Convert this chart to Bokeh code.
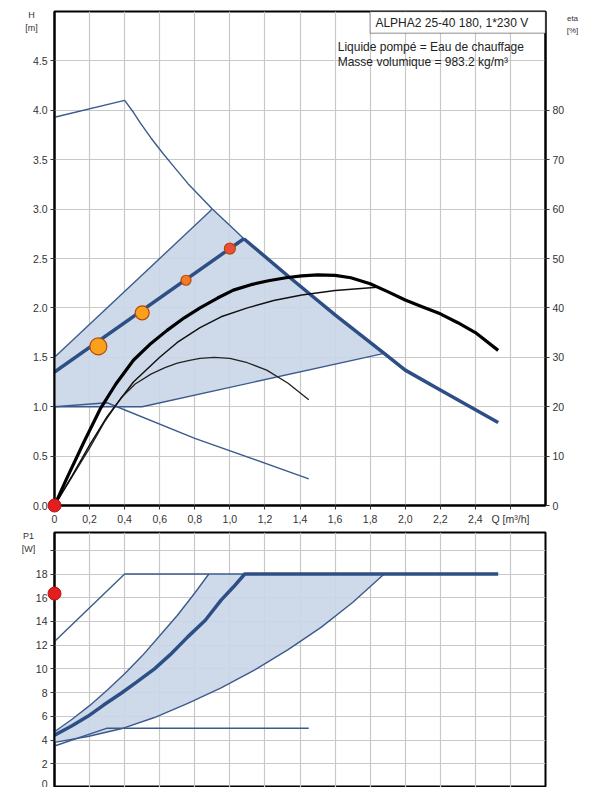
from bokeh.plotting import figure
from bokeh.models import Range1d, LinearAxis, FixedTicker, Label, BoxAnnotation, Grid
from bokeh.layouts import column
from bokeh.embed import file_html
from bokeh.resources import INLINE

# ---------------- data ----------------
q_ticks = [0, 0.2, 0.4, 0.6, 0.8, 1.0, 1.2, 1.4, 1.6, 1.8, 2.0, 2.2, 2.4, 2.6]
q_tick_labels = ["0", "0,2", "0,4", "0,6", "0,8", "1,0", "1,2", "1,4", "1,6", "1,8",
                 "2,0", "2,2", "2,4", "Q [m³/h]"]
h_ticks = [0, 0.5, 1.0, 1.5, 2.0, 2.5, 3.0, 3.5, 4.0, 4.5]
h_tick_labels = ["0.0", "0.5", "1.0", "1.5", "2.0", "2.5", "3.0", "3.5", "4.0", "4.5"]
eta_ticks = [0, 10, 20, 30, 40, 50, 60, 70, 80]
eta_tick_labels = ["0", "10", "20", "30", "40", "50", "60", "70", "80"]
p_ticks = [0, 2, 4, 6, 8, 10, 12, 14, 16, 18, 20]
p_tick_labels = ["0", "2", "4", "6", "8", "10", "12", "14", "16", "18", ""]

# max curve H(Q)
max_q = [0, 0.4, 0.45, 0.49, 0.55, 0.62, 0.69, 0.76, 0.83, 0.9, 1.02, 1.08, 1.34, 1.6,
         1.88, 2.0, 2.2, 2.53]
max_h = [3.93, 4.10, 3.98, 3.87, 3.72, 3.56, 3.41, 3.26, 3.13, 3.0, 2.80, 2.70, 2.31, 1.93,
         1.54, 1.37, 1.17, 0.84]

# AutoAdapt area boundaries
area_top_q = [0, 0.9]
area_top_h = [1.5, 3.0]
area_low_q = [0, 0.5, 1.88]
area_low_h = [1.0, 1.0, 1.54]
min_q = [0, 0.3, 0.8, 1.45]
min_h = [1.0, 1.04, 0.68, 0.27]

# proportional pressure line and duty points
prop_q = [0, 1.08]
prop_h = [1.35, 2.70]
pt_q = [0.25, 0.5, 0.75, 1.0]
pt_h = [1.61, 1.95, 2.28, 2.60]
red_q = [0]
red_h = [0]

# efficiency curves (eta %)
eta_q = [0, 0.07, 0.17, 0.26, 0.35, 0.45, 0.55, 0.64, 0.74, 0.83, 0.93, 1.02, 1.12, 1.22,
         1.32, 1.41, 1.5, 1.6, 1.69, 1.8, 1.9, 2.0, 2.1, 2.2, 2.3, 2.4, 2.53]
eta_v = [0, 5.5, 13.0, 19.5, 24.6, 29.4, 32.8, 35.4, 38.0, 40.0, 42.0, 43.6, 44.7, 45.5,
         46.1, 46.5, 46.7, 46.6, 46.1, 44.9, 43.3, 41.6, 40.2, 38.8, 37.0, 35.0, 31.4]
eta_a_q = [0, 0.1, 0.2, 0.3, 0.45, 0.6, 0.7, 0.83, 0.95, 1.1, 1.25, 1.41, 1.6, 1.84]
eta_a_v = [0, 6.0, 12.2, 18.0, 25.0, 30.0, 33.0, 36.0, 38.2, 40.0, 41.5, 42.6, 43.5, 44.2]
eta_b_q = [0, 0.1, 0.2, 0.29, 0.38, 0.46, 0.55, 0.63, 0.7, 0.77, 0.83, 0.91, 1.0, 1.1,
           1.21, 1.33, 1.45]
eta_b_v = [0, 5.8, 11.6, 17.2, 21.8, 24.6, 26.6, 27.9, 28.8, 29.4, 29.8, 30.0, 29.8, 28.9,
           27.4, 24.8, 21.4]

# power curves P1 (W)
pmax_q = [0, 0.4, 2.53]
pmax_w = [12.3, 18, 18]
pup_q = [0, 0.1, 0.2, 0.3, 0.4, 0.5, 0.6, 0.7, 0.8, 0.88]
pup_w = [4.7, 5.75, 6.9, 8.2, 9.6, 11.1, 12.8, 14.5, 16.4, 18]
pmid_q = [0, 0.1, 0.19, 0.28, 0.38, 0.47, 0.57, 0.66, 0.76, 0.86, 0.95, 1.02, 1.085, 2.53]
pmid_w = [4.4, 5.2, 6.0, 6.95, 7.95, 8.9, 10.0, 11.2, 12.7, 14.1, 15.8, 16.9, 18, 18]
plow_q = [0, 0.19, 0.38, 0.57, 0.76, 0.95, 1.14, 1.33, 1.52, 1.7, 1.88]
plow_w = [3.8, 4.3, 4.95, 5.9, 7.1, 8.4, 9.9, 11.6, 13.5, 15.6, 18]
pflat_q = [0, 0.3, 1.45]
pflat_w = [3.5, 5.0, 5.0]
pred_q = [0]
pred_w = [16.35]

# ---------------- styles ----------------
FONT = "Liberation Sans"
THIN = "#3b5b8c"
THICK = "#2d4f86"
SHADE = "#c9d6e8"
GRID = "#c8c8c8"
TXT = "#333333"
pt_sizes = [17, 14, 10, 11]
pt_colors = ["#f9a11b", "#f9a11b", "#f47b20", "#ea4f37"]


def style_axis(ax, ticks, labels):
    ax.ticker = FixedTicker(ticks=ticks)
    ax.major_label_overrides = {t: l for t, l in zip(ticks, labels)}
    ax.axis_line_width = 2
    ax.axis_line_color = "black"
    ax.major_tick_out = 4
    ax.major_tick_in = 0
    ax.minor_tick_out = 0
    ax.minor_tick_in = 0
    ax.major_tick_line_color = "#333333"
    ax.major_label_text_font = FONT
    ax.major_label_text_font_size = "10.5px"
    ax.major_label_text_color = TXT
    ax.major_label_standoff = 3


def side_label(fig, text, x, y, side, size="9px"):
    fig.add_layout(Label(x=x, y=y, x_units="canvas", y_units="canvas", text=text,
                         text_font=FONT, text_font_size=size, text_color=TXT,
                         text_align="center", text_baseline="middle",
                         text_line_height=1.25), side)


# ---------------- top figure: H(Q) and eta ----------------
p = figure(width=594, height=527, output_backend="svg", toolbar_location=None,
           x_range=Range1d(0, 2.8), y_range=Range1d(0, 5.0),
           min_border_left=54, min_border_right=49, min_border_top=11, min_border_bottom=22)
p.extra_y_ranges = {"eta": Range1d(0, 100)}
p.outline_line_color = "black"
p.outline_line_width = 2
style_axis(p.xaxis[0], q_ticks, q_tick_labels)
style_axis(p.yaxis[0], h_ticks, h_tick_labels)
rax = LinearAxis(y_range_name="eta")
style_axis(rax, eta_ticks, eta_tick_labels)
p.add_layout(rax, "right")
for g in (p.xgrid, p.ygrid):
    g.grid_line_color = GRID
    g.grid_line_width = 1.2

# shaded operating area
sel = [i for i, q in enumerate(max_q) if area_top_q[-1] < q < area_low_q[-1]]
area_x = area_top_q + [max_q[i] for i in sel] + area_low_q[::-1]
area_y = area_top_h + [max_h[i] for i in sel] + area_low_h[::-1]
p.patch(area_x, area_y, fill_color=SHADE, fill_alpha=0.9, line_color=None)
p.line(area_top_q, area_top_h, line_color=THIN, line_width=1.4)
p.line(area_low_q, area_low_h, line_color=THIN, line_width=1.4)
p.line(min_q, min_h, line_color=THIN, line_width=1.4)
p.line(max_q, max_h, line_color=THIN, line_width=1.4)
thick_idx = [i for i, q in enumerate(max_q) if q >= prop_q[-1]]
p.line([max_q[i] for i in thick_idx], [max_h[i] for i in thick_idx],
       line_color=THICK, line_width=3.5)

# efficiency curves
p.line(eta_b_q, eta_b_v, y_range_name="eta", line_color="#222222", line_width=1.3)
p.line(eta_a_q, eta_a_v, y_range_name="eta", line_color="#111111", line_width=1.5)
p.line(eta_q, eta_v, y_range_name="eta", line_color="black", line_width=3.2)

# proportional pressure line & points
p.line(prop_q, prop_h, line_color=THICK, line_width=3.5)
p.scatter(pt_q, pt_h, size=pt_sizes, fill_color=pt_colors, line_color="#b4490c", line_width=1.2)
p.scatter(red_q, red_h, size=13, fill_color="#e21f1f", line_color="#c01010", level="overlay")

# header box and texts
p.add_layout(BoxAnnotation(left=1.80, right=2.8, bottom=4.78, top=5.0,
                           fill_color="white", fill_alpha=1, line_color="black", line_width=1.5))
p.add_layout(Label(x=1.83, y=4.885, text="ALPHA2 25-40 180, 1*230 V", text_font=FONT,
                   text_font_size="12px", text_color="#222222", text_baseline="middle"))
p.add_layout(Label(x=1.615, y=4.64, text="Liquide pompé = Eau de chauffage", text_font=FONT,
                   text_font_size="12px", text_color="#222222", text_baseline="middle"))
p.add_layout(Label(x=1.615, y=4.49, text="Masse volumique = 983.2 kg/m³", text_font=FONT,
                   text_font_size="12px", text_color="#222222", text_baseline="middle"))
side_label(p, "H\n[m]", 31, 21, "left")
side_label(p, "eta\n[%]", 572, 24, "right", size="8px")

# ---------------- bottom figure: P1(Q) ----------------
p2 = figure(width=594, height=260, output_backend="svg", toolbar_location=None,
            x_range=Range1d(0, 2.8), y_range=Range1d(0, 21.5), x_axis_location=None,
            min_border_left=54, min_border_right=49, min_border_top=5, min_border_bottom=0)
p2.outline_line_color = "black"
p2.outline_line_width = 2
style_axis(p2.yaxis[0], p_ticks, p_tick_labels)
if len(p2.xgrid) == 0:
    p2.add_layout(Grid(dimension=0, ticker=FixedTicker(ticks=q_ticks)))
else:
    p2.xgrid.ticker = FixedTicker(ticks=q_ticks)
for g in (p2.xgrid, p2.ygrid):
    g.grid_line_color = GRID
    g.grid_line_width = 1.2

parea_x = pup_q + plow_q[::-1]
parea_y = pup_w + plow_w[::-1]
p2.patch(parea_x, parea_y, fill_color=SHADE, fill_alpha=0.9, line_color=None)
p2.line(pmax_q, pmax_w, line_color=THIN, line_width=1.4)
p2.line(pup_q, pup_w, line_color=THIN, line_width=1.4)
p2.line(plow_q, plow_w, line_color=THIN, line_width=1.4)
p2.line(pflat_q, pflat_w, line_color=THIN, line_width=1.4)
p2.line(pmid_q, pmid_w, line_color=THICK, line_width=3.5)
p2.scatter(pred_q, pred_w, size=13, fill_color="#e21f1f", line_color="#c01010", level="overlay")
side_label(p2, "P1\n[W]", 28, 15, "left")

layout = column(p, p2, spacing=0)
open("out.html", "w").write(file_html(layout, INLINE))
